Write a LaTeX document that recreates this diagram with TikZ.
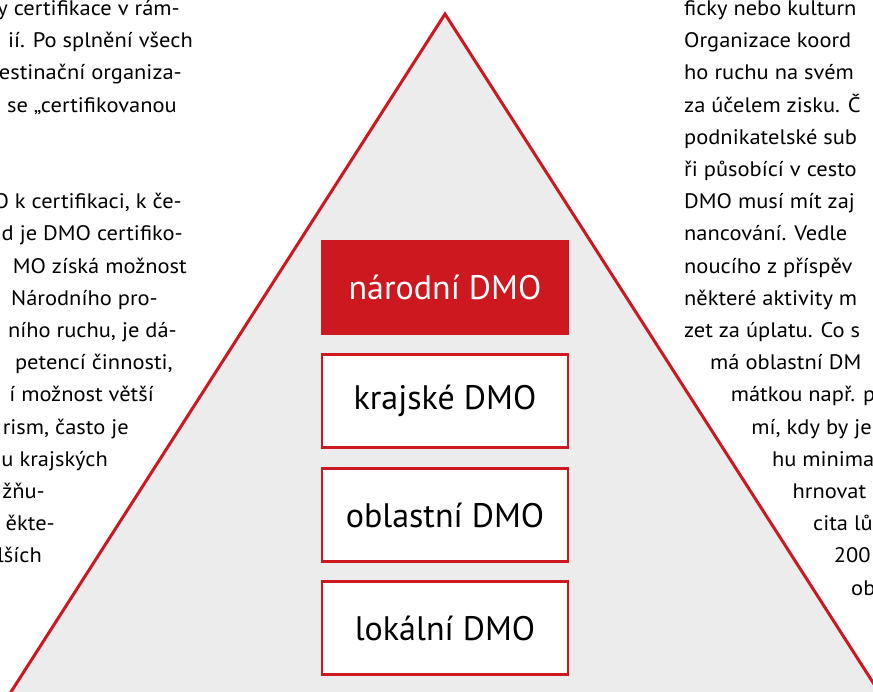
\documentclass[tikz,border=0pt]{standalone}
\usepackage{fontspec}
\setmainfont{PT Sans}
\newfontfamily\bodyfont[FakeStretch=1.07]{PT Sans}

\definecolor{dmored}{RGB}{204,24,30}
\definecolor{pyrgray}{RGB}{236,236,236}

\tikzset{
  levelbox/.style={draw=dmored, line width=2.4pt, fill=white, minimum width=246pt,
    minimum height=93pt, inner sep=0pt, font=\fontsize{34}{40}\selectfont},
  toplevel/.style={levelbox, fill=dmored, text=white},
  lefttext/.style={anchor=base east, inner sep=0pt, font=\bodyfont\fontsize{21}{31}\selectfont},
  righttext/.style={anchor=base west, inner sep=0pt, font=\bodyfont\fontsize{21}{31}\selectfont}
}

\begin{document}
\begin{tikzpicture}[x=1pt,y=-1pt]
  % Parameters
  \def\W{873}
  \def\H{691}
  \def\cx{445}
  \def\m{684}

  \useasboundingbox (0,0) rectangle (\W,\H);
  \clip (0,0) rectangle (\W,\H);

  % Pyramid (shaded, red outline)
  \filldraw[fill=pyrgray, draw=dmored, line width=3pt, line join=miter]
    (\cx,14) -- (897,720) -- (-7,720) -- cycle;

  % Levels
  \node[toplevel] (narodni) at (\cx,287.5) {národní DMO};
  \node[levelbox] (krajske) at (\cx,401) {krajské DMO};
  \node[levelbox] (oblastni) at (\cx,515) {oblastní DMO};
  \node[levelbox] (lokalni) at (\cx,628) {lokální DMO};

  % Left column (cut at the page edge)
  \node[lefttext] (L0) at (180,15.5) {y certifikace v rám-};
  \node[lefttext] (L1) at (193,47.7) {ií. Po splnění všech};
  \node[lefttext] (L2) at (182,79.9) {estinační organiza-};
  \node[lefttext] (L3) at (177,112.1) {se „certifikovanou};
  \node[lefttext] (L6) at (182,208.7) {O k certifikaci, k če-};
  \node[lefttext] (L7) at (183,240.9) {d je DMO certifiko-};
  \node[lefttext] (L8) at (187,273.1) {MO získá možnost};
  \node[lefttext] (L9) at (158,305.3) {Národního pro-};
  \node[lefttext] (L10) at (177,337.5) {ního ruchu, je dá-};
  \node[lefttext] (L11) at (173,369.7) {petencí činnosti,};
  \node[lefttext] (L12) at (154,401.9) {í možnost větší};
  \node[lefttext] (L13) at (129,434.1) {rism, často je};
  \node[lefttext] (L14) at (108,466.3) {u krajských};
  \node[lefttext] (L15) at (45,498.5) {žňu-};
  \node[lefttext] (L16) at (55,530.7) {ěkte-};
  \node[lefttext] (L17) at (42,562.9) {lších};

  % Right column (follows the pyramid edge further down)
  \node[righttext] (R0) at (\m,15.5) {ficky nebo kulturn};
  \node[righttext] (R1) at (\m,47.7) {Organizace koord};
  \node[righttext] (R2) at (\m,79.9) {ho ruchu na svém};
  \node[righttext] (R3) at (\m,112.1) {za účelem zisku. Č};
  \node[righttext] (R4) at (\m,144.3) {podnikatelské sub};
  \node[righttext] (R5) at (\m,176.5) {ři působící v cesto};
  \node[righttext] (R6) at (\m,208.7) {DMO musí mít zaj};
  \node[righttext] (R7) at (\m,240.9) {nancování. Vedle};
  \node[righttext] (R8) at (\m,273.1) {noucího z příspěv};
  \node[righttext] (R9) at (\m,305.3) {některé aktivity m};
  \node[righttext] (R10) at (\m,337.5) {zet za úplatu. Co s};
  \node[righttext] (R11) at (710,369.7) {má oblastní DM};
  \node[righttext] (R12) at (730.6,401.9) {mátkou např. p};
  \node[righttext] (R13) at (751.2,434.1) {mí, kdy by je};
  \node[righttext] (R14) at (771.8,466.3) {hu minima};
  \node[righttext] (R15) at (792.4,498.5) {hrnovat};
  \node[righttext] (R16) at (813,530.7) {cita lů};
  \node[righttext] (R17) at (833.6,562.9) {200};
  \node[righttext] (R18) at (851,595.1) {ob};

\end{tikzpicture}
\end{document}
